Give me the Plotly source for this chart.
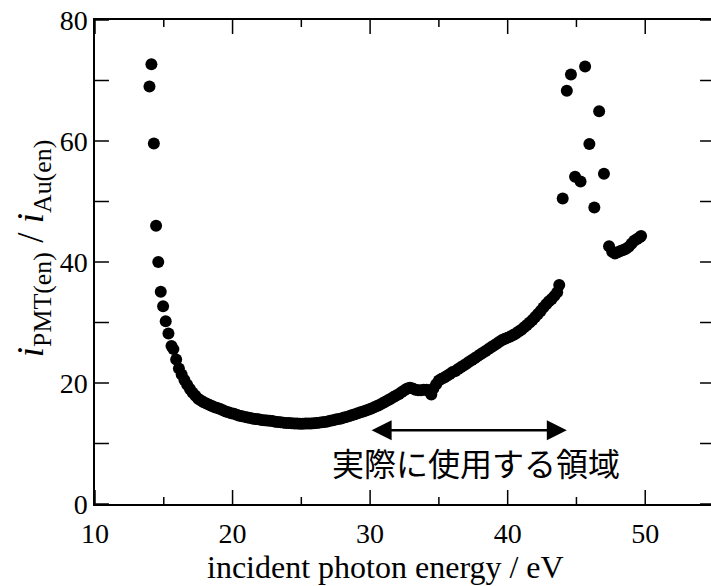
import plotly.graph_objects as go

# incident photon energy (eV) and ratio i_PMT(en)/i_Au(en)
energy = [
    13.96, 14.1, 14.28, 14.44, 14.6, 14.78, 14.95, 15.14, 15.34, 15.56, 15.7, 15.9, 16.1,
    16.3, 16.5, 16.7, 16.9, 17.1, 17.3, 17.5, 17.7, 17.9, 18.1, 18.3, 18.5, 18.7, 18.9,
    19.1, 19.3, 19.5, 19.7, 19.9, 20.1, 20.3, 20.5, 20.7, 20.9, 21.1, 21.3, 21.5, 21.7,
    21.9, 22.1, 22.3, 22.5, 22.7, 22.9, 23.1, 23.3, 23.5, 23.7, 23.9, 24.1, 24.3, 24.5,
    24.7, 24.9, 25.1, 25.3, 25.5, 25.7, 25.9, 26.1, 26.3, 26.5, 26.7, 26.9, 27.1, 27.3,
    27.5, 27.7, 27.9, 28.1, 28.3, 28.5, 28.7, 28.9, 29.1, 29.3, 29.5, 29.7, 29.9, 30.1,
    30.3, 30.5, 30.7, 30.9, 31.1, 31.3, 31.5, 31.7, 31.9, 32.1, 32.3, 32.5, 32.7, 32.9,
    33.1, 33.3, 33.5, 33.7, 33.9, 34.1, 34.3, 34.45, 34.6, 34.8, 35.0, 35.2, 35.4, 35.6,
    35.8, 36.0, 36.2, 36.4, 36.6, 36.8, 37.0, 37.2, 37.4, 37.6, 37.8, 38.0, 38.2, 38.4,
    38.6, 38.8, 39.0, 39.2, 39.4, 39.6, 39.8, 40.0, 40.2, 40.4, 40.6, 40.8, 41.0, 41.2,
    41.4, 41.6, 41.8, 42.0, 42.2, 42.4, 42.6, 42.8, 43.0, 43.2, 43.4, 43.6, 43.75,
    44.0, 44.3, 44.6, 44.9, 45.3, 45.63, 45.94, 46.3, 46.65, 47.0,
    47.37, 47.6, 47.8, 48.0, 48.2, 48.4, 48.6, 48.8, 49.0, 49.2, 49.4, 49.6, 49.7,
]
ratio = [
    69.0, 72.7, 59.6, 46.0, 40.0, 35.1, 32.7, 30.2, 28.2, 26.1, 25.6, 23.9, 22.4,
    21.4, 20.5, 19.7, 19.0, 18.4, 17.9, 17.4, 17.1, 16.8, 16.6, 16.4, 16.2, 16.0, 15.85,
    15.7, 15.5, 15.3, 15.15, 15.0, 14.9, 14.75, 14.6, 14.5, 14.4, 14.3, 14.2, 14.1, 14.05,
    14.0, 13.9, 13.85, 13.8, 13.75, 13.7, 13.6, 13.55, 13.5, 13.45, 13.4, 13.4, 13.35, 13.3,
    13.3, 13.25, 13.25, 13.3, 13.3, 13.3, 13.35, 13.4, 13.45, 13.5, 13.55, 13.65, 13.75, 13.85,
    13.95, 14.05, 14.15, 14.3, 14.4, 14.55, 14.7, 14.85, 15.0, 15.15, 15.3, 15.45, 15.6, 15.8,
    16.0, 16.2, 16.4, 16.65, 16.9, 17.15, 17.4, 17.7, 17.95, 18.2, 18.5, 18.8, 19.1, 19.2,
    19.1, 18.9, 18.8, 18.8, 18.9, 18.9, 18.6, 18.1, 19.1, 19.8, 20.4, 20.7, 20.9, 21.2,
    21.5, 21.8, 22.0, 22.3, 22.6, 22.9, 23.2, 23.5, 23.8, 24.1, 24.4, 24.7, 25.0, 25.3,
    25.6, 25.9, 26.2, 26.5, 26.8, 27.1, 27.3, 27.5, 27.7, 27.95, 28.2, 28.5, 28.8, 29.2,
    29.6, 30.0, 30.4, 30.9, 31.4, 31.9, 32.5, 33.0, 33.5, 33.9, 34.4, 35.0, 36.2,
    50.5, 68.3, 71.0, 54.1, 53.3, 72.3, 59.5, 49.0, 64.9, 54.6,
    42.6, 41.7, 41.4, 41.6, 41.8, 42.0, 42.2, 42.5, 43.0, 43.5, 43.8, 44.1, 44.3,
]

x_range = [10, 55]
y_range = [0, 80]
x_major = [10, 20, 30, 40, 50]
x_minor = [15, 25, 35, 45, 55]
y_ticks = [0, 10, 20, 30, 40, 50, 60, 70, 80]
y_labels = [0, 20, 40, 60, 80]
region_label = "実際に使用する領域"
region_start, region_end = 30.0, 44.3
y_title = "<i>i</i><sub>PMT(en)</sub> / <i>i</i><sub>Au(en)</sub>"
x_title = "incident photon energy / eV"

serif = "Liberation Serif"
LW = 1.5
W, H = 716, 586
ML, MR, MT, MB = 95, 0, 20, 82
plot_w, plot_h = W - ML - MR, H - MT - MB
# tick lengths (pixels) converted to axis units
x_per_px = (x_range[1] - x_range[0]) / plot_w
y_per_px = (y_range[1] - y_range[0]) / plot_h

tx, ty = [], []
for xv, ln in [(v, 14) for v in x_major] + [(v, 7) for v in x_minor]:
    tx += [xv, xv, None, xv, xv, None]
    ty += [y_range[0], y_range[0] + ln * y_per_px, None,
           y_range[1], y_range[1] - ln * y_per_px, None]
for yv in y_ticks:
    tx += [x_range[0], x_range[0] + 14 * x_per_px, None,
           x_range[1], x_range[1] - 14 * x_per_px, None]
    ty += [yv, yv, None, yv, yv, None]

fig = go.Figure()
fig.add_trace(go.Scatter(
    x=tx, y=ty, mode="lines", line=dict(color="black", width=LW),
    hoverinfo="skip", showlegend=False, cliponaxis=False,
))
fig.add_trace(go.Scatter(
    x=energy, y=ratio, mode="markers",
    marker=dict(color="black", size=12, line=dict(width=0)),
    showlegend=False,
))

fig.add_annotation(
    x=region_end, y=12.2, ax=region_start, ay=12.2, xref="x", yref="y",
    axref="x", ayref="y", text="", showarrow=True, arrowside="end+start",
    arrowhead=2, arrowsize=1.6, arrowwidth=2.5, arrowcolor="black",
)
fig.add_annotation(
    x=37.7, y=7.0, xref="x", yref="y", text=region_label, showarrow=False,
    font=dict(family="Noto Sans CJK JP", size=32, color="black"),
)
fig.add_annotation(
    x=-0.098, y=0.529, xref="paper", yref="paper", text=y_title, showarrow=False,
    textangle=-90, xanchor="center", yanchor="middle",
    font=dict(family=serif, size=37, color="black"),
)
fig.add_annotation(
    x=0.470, y=-0.131, xref="paper", yref="paper", text=x_title, showarrow=False,
    xanchor="center", yanchor="middle",
    font=dict(family=serif, size=32, color="black"),
)

fig.update_layout(
    width=W, height=H,
    margin=dict(l=ML, r=MR, t=MT, b=MB),
    paper_bgcolor="white", plot_bgcolor="white",
    font=dict(family=serif, size=28, color="black"),
    xaxis=dict(
        range=x_range, tickmode="array", tickvals=x_major, ticks="",
        showline=True, linecolor="black", linewidth=LW, mirror=True,
        showgrid=False, zeroline=False, ticklabelstandoff=4,
    ),
    yaxis=dict(
        range=y_range, tickmode="array", tickvals=y_labels, ticks="",
        showline=True, linecolor="black", linewidth=LW, mirror=True,
        showgrid=False, zeroline=False,
    ),
)

fig.write_html("out.html", post_script="document.body.style.overflow='hidden';document.documentElement.style.overflow='hidden';")
